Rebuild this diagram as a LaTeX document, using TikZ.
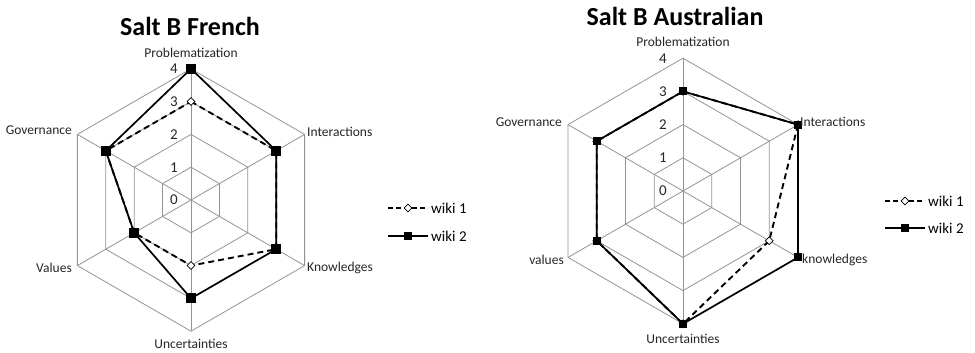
\documentclass[tikz,border=0pt]{standalone}
\usepackage{fontspec}
\setmainfont{Carlito}
\usetikzlibrary{shapes.geometric}
\begin{document}
\begin{tikzpicture}[x=1pt,y=1pt,
  gridln/.style={draw=black!42, line width=0.8pt},
  ser1/.style={black, line width=1.9pt, dash pattern=on 6pt off 4pt, line join=round},
  ser2/.style={black, line width=1.7pt, line join=round},
  axlab/.style={font=\fontsize{13.5}{15}\selectfont, text=black!85, inner sep=1pt},
  ticklab/.style={font=\fontsize{15}{17}\selectfont, text=black!85, inner sep=0pt},
  ttl/.style={font=\bfseries\fontsize{26}{30}\selectfont, inner sep=0pt},
  leglab/.style={font=\fontsize{15}{17}\selectfont, anchor=west, inner sep=0pt},
  sqA/.style={rectangle, fill=black, minimum size=10pt, inner sep=0pt},
  sqB/.style={rectangle, fill=black, minimum size=8pt, inner sep=0pt},
  dmA/.style={diamond, draw=black, fill=white, line width=0.7pt, minimum size=8pt, inner sep=0pt}
]
\useasboundingbox (0,0) rectangle (975,353);
\fill[white] (0,0) rectangle (975,353);

% ---------------- Left chart: Salt B French ----------------
\begin{scope}[shift={(191,153)}]
  \foreach \r in {1,2,3,4}{
    \draw[gridln] (90:{\r*32.8}) -- (30:{\r*32.8}) -- (-30:{\r*32.8}) -- (-90:{\r*32.8}) -- (-150:{\r*32.8}) -- (150:{\r*32.8}) -- cycle;
  }
  \foreach \a in {90,30,-30,-90,-150,150}{ \draw[gridln] (0,0) -- (\a:{4*32.8}); }
  \foreach \k in {0,1,2,3,4}{ \node[ticklab] (Lt\k) at (-17,{\k*32.8}) {\k}; }
  % wiki 1
  \foreach \a/\v/\n in {90/3/1,30/3/2,-30/3/3,-90/2/4,-150/2/5,150/3/6}{
    \coordinate (La\n) at (\a:{\v*32.8});
  }
  % wiki 2
  \foreach \a/\v/\n in {90/4/1,30/3/2,-30/3/3,-90/3/4,-150/2/5,150/3/6}{
    \coordinate (Lb\n) at (\a:{\v*32.8});
  }
\end{scope}
\draw[ser1] (La1) -- (La2) -- (La3) -- (La4) -- (La5) -- (La6) -- cycle;
\foreach \n in {1,...,6}{ \node[dmA] (LdA\n) at (La\n) {}; }
\draw[ser2] (Lb1) -- (Lb2) -- (Lb3) -- (Lb4) -- (Lb5) -- (Lb6) -- cycle;
\foreach \n in {1,...,6}{ \node[sqA] (LsB\n) at (Lb\n) {}; }

\node[ttl] (Ltitle) at (190,327) {Salt B French};
\node[axlab] (Lprob) at (191,300) {Problematization};
\node[axlab, anchor=west] (Linter) at (306,221) {Interactions};
\node[axlab, anchor=west] (Lknow) at (306,85) {Knowledges};
\node[axlab] (Lunc) at (191,9) {Uncertainties};
\node[axlab, anchor=east] (Lval) at (73,85) {Values};
\node[axlab, anchor=east] (Lgov) at (73,223) {Governance};

% legend left
\coordinate (Lg1a) at (388,145); \coordinate (Lg1b) at (428,145);
\coordinate (Lg2a) at (388,117); \coordinate (Lg2b) at (428,117);
\draw[ser1, dash pattern=on 5pt off 3pt] (Lg1a) -- (Lg1b);
\node[dmA] (Lgd) at (408,145) {};
\draw[ser2] (Lg2a) -- (Lg2b);
\node[sqB] (Lgs) at (408,117) {};
\node[leglab] (Lgt1) at (431,145) {wiki 1};
\node[leglab] (Lgt2) at (431,117) {wiki 2};

% ---------------- Right chart: Salt B Australian ----------------
\begin{scope}[shift={(683,162)}]
  \foreach \r in {1,2,3,4}{
    \draw[gridln] (90:{\r*33.2}) -- (30:{\r*33.2}) -- (-30:{\r*33.2}) -- (-90:{\r*33.2}) -- (-150:{\r*33.2}) -- (150:{\r*33.2}) -- cycle;
  }
  \foreach \a in {90,30,-30,-90,-150,150}{ \draw[gridln] (0,0) -- (\a:{4*33.2}); }
  \foreach \k in {0,1,2,3,4}{ \node[ticklab] (Rt\k) at (-20,{\k*33.2}) {\k}; }
  \foreach \a/\v/\n in {90/3/1,30/4/2,-30/3/3,-90/4/4,-150/3/5,150/3/6}{
    \coordinate (Ra\n) at (\a:{\v*33.2});
  }
  \foreach \a/\v/\n in {90/3/1,30/4/2,-30/4/3,-90/4/4,-150/3/5,150/3/6}{
    \coordinate (Rb\n) at (\a:{\v*33.2});
  }
\end{scope}
\draw[ser1] (Ra1) -- (Ra2) -- (Ra3) -- (Ra4) -- (Ra5) -- (Ra6) -- cycle;
\foreach \n in {1,...,6}{ \node[dmA] (RdA\n) at (Ra\n) {}; }
\draw[ser2] (Rb1) -- (Rb2) -- (Rb3) -- (Rb4) -- (Rb5) -- (Rb6) -- cycle;
\foreach \n in {1,...,6}{ \node[sqB] (RsB\n) at (Rb\n) {}; }

\node[ttl] (Rtitle) at (675,337) {Salt B Australian};
\node[axlab] (Rprob) at (683,311) {Problematization};
\node[axlab, anchor=west] (Rinter) at (799,231) {Interactions};
\node[axlab, anchor=west] (Rknow) at (801,93) {knowledges};
\node[axlab] (Runc) at (683,14) {Uncertainties};
\node[axlab, anchor=east] (Rval) at (565,93) {values};
\node[axlab, anchor=east] (Rgov) at (563,231) {Governance};

% legend right
\coordinate (Rg1a) at (885,152); \coordinate (Rg1b) at (925,152);
\coordinate (Rg2a) at (885,125); \coordinate (Rg2b) at (925,125);
\draw[ser1, dash pattern=on 5pt off 3pt] (Rg1a) -- (Rg1b);
\node[dmA] (Rgd) at (905,152) {};
\draw[ser2] (Rg2a) -- (Rg2b);
\node[sqB] (Rgs) at (905,125) {};
\node[leglab] (Rgt1) at (928,152) {wiki 1};
\node[leglab] (Rgt2) at (928,125) {wiki 2};
\end{tikzpicture}
\end{document}
